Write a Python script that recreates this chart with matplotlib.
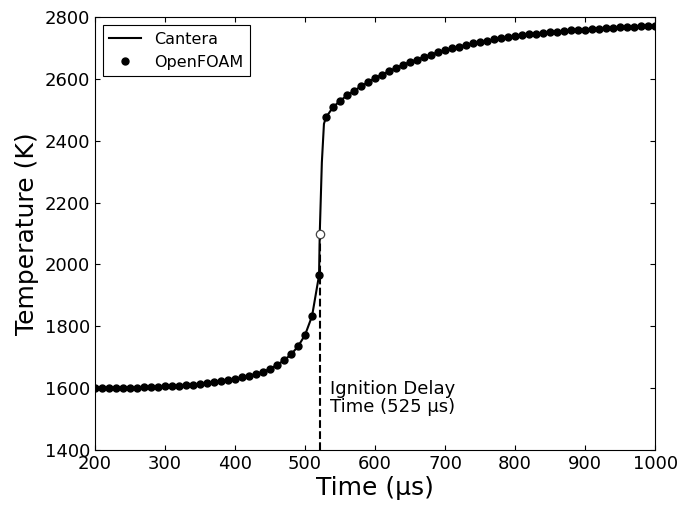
import numpy as np
import matplotlib
matplotlib.use('Agg')
import matplotlib.pyplot as plt

# OpenFOAM samples, every 10 us
foam_time = list(range(200, 1001, 10))
foam_temp = [1600, 1600, 1601, 1601, 1601, 1602, 1602, 1603, 1603, 1604,
             1606, 1607, 1608, 1609, 1611, 1613, 1616, 1619, 1622, 1626,
             1630, 1635, 1640, 1646, 1653, 1662, 1675, 1690, 1709, 1735,
             1772, 1833, 1965, 2476, 2509, 2529, 2547, 2562, 2576, 2590,
             2603, 2614, 2625, 2636, 2646, 2655, 2663, 2671, 2679, 2686,
             2693, 2699, 2705, 2710, 2715, 2720, 2724, 2728, 2732, 2735,
             2738, 2741, 2744, 2747, 2749, 2751, 2753, 2755, 2757, 2759,
             2760, 2762, 2763, 2765, 2766, 2767, 2768, 2769, 2770, 2771,
             2772]

# extra Cantera points through the ignition jump
jump_time = [521, 524, 527]
jump_temp = [2100, 2330, 2455]

ign_time = 521
ign_temp = 2100

cantera_time = np.array(foam_time + jump_time)
cantera_temp = np.array(foam_temp + jump_temp)
order = np.argsort(cantera_time)
cantera_time = cantera_time[order]
cantera_temp = cantera_temp[order]

plt.rcParams['xtick.direction'] = 'in'
plt.rcParams['ytick.direction'] = 'in'
plt.rcParams['xtick.top'] = True
plt.rcParams['ytick.right'] = True

fig = plt.figure(figsize=(6.81, 5.05), dpi=100)
ax = fig.add_axes([0.1395, 0.109, 0.8225, 0.857])

ax.plot([ign_time, ign_time], [1400, ign_temp], 'k--', lw=1.5, zorder=1)
ax.plot(cantera_time, cantera_temp, 'k-', lw=1.5, label='Cantera', zorder=2)
ax.plot(foam_time, foam_temp, 'ko', ms=5, label='OpenFOAM', zorder=3)
ax.plot(ign_time, ign_temp, 'o', ms=6, mfc='white', mec='#444444', mew=0.9, zorder=4)

ax.text(535, 1567, 'Ignition Delay\nTime (525 \u00b5s)', fontsize=13,
        ha='left', va='center', linespacing=1.0)

ax.set_xlim(200, 1000)
ax.set_ylim(1400, 2800)
ax.set_xticks(range(200, 1001, 100))
ax.set_yticks(range(1400, 2801, 200))
ax.tick_params(labelsize=13, length=3.5, width=0.8)
ax.set_xlabel('Time (\u00b5s)', fontsize=18, labelpad=2)
ax.set_ylabel('Temperature (K)', fontsize=18, labelpad=4)

leg = ax.legend(loc='upper left', fontsize=11.5, numpoints=1, fancybox=False,
                edgecolor='black', framealpha=1, borderaxespad=0.5,
                handlelength=2.0)
leg.get_frame().set_linewidth(0.8)

fig.savefig('out.png', dpi=100)
